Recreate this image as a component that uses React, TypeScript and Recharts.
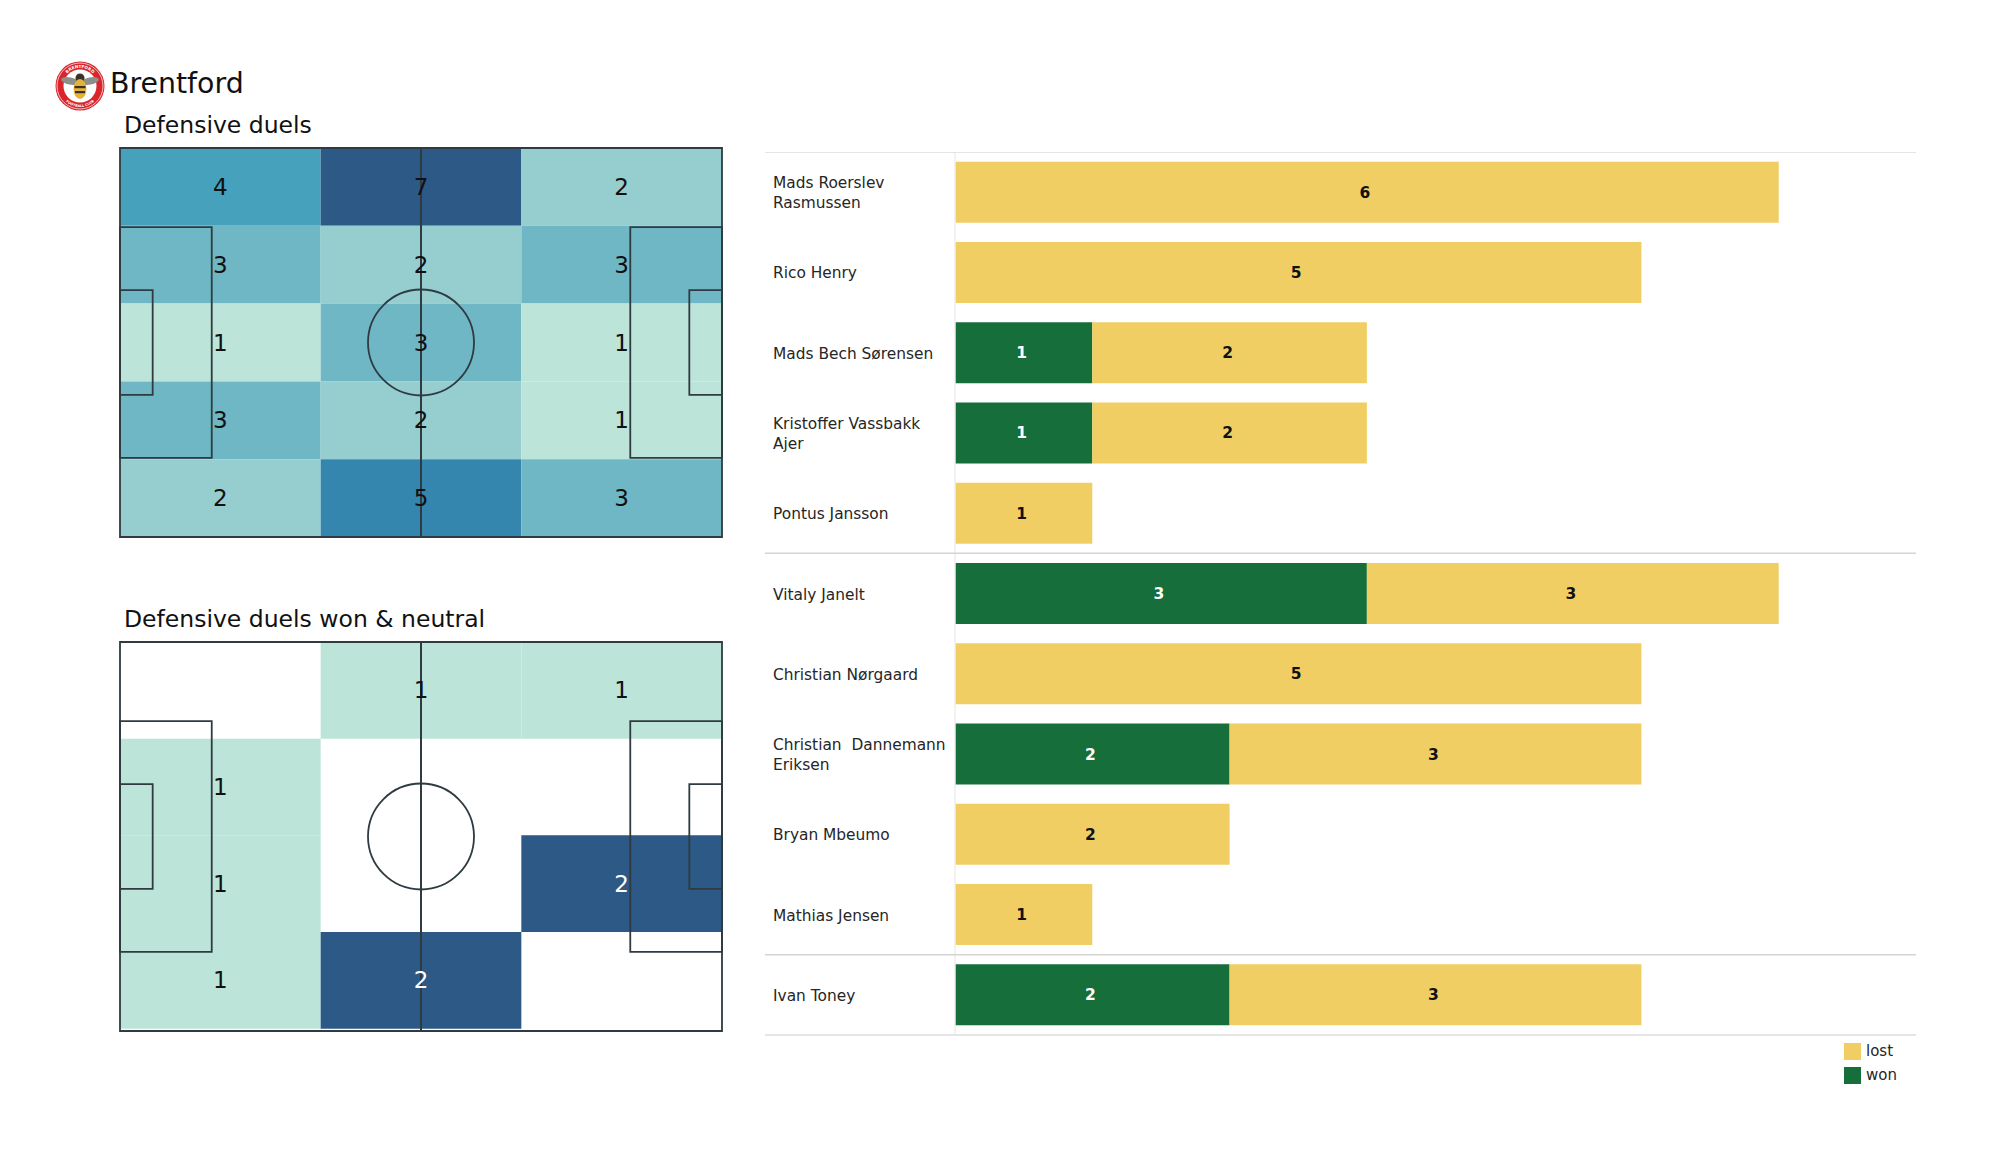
import React from "react";
import {
  Bar,
  BarChart,
  LabelList,
  Legend,
  ReferenceArea,
  ReferenceDot,
  ReferenceLine,
  Scatter,
  ScatterChart,
  XAxis,
  YAxis,
} from "recharts";

const FONT = "'DejaVu Sans', sans-serif";

// heatmap counts, top row first, 0 means nothing recorded
const duelCounts = [
  [4, 7, 2],
  [3, 2, 3],
  [1, 3, 1],
  [3, 2, 1],
  [2, 5, 3],
];
const wonCounts = [
  [0, 1, 1],
  [1, 0, 0],
  [1, 0, 2],
  [1, 2, 0],
];
const duelColors: Record<number, string> = {
  1: "#BCE4D9",
  2: "#96CED0",
  3: "#6FB7C4",
  4: "#46A1BC",
  5: "#3586AE",
  7: "#2C5985",
};
const wonColors: Record<number, string> = {
  1: "#BCE4D9",
  2: "#2C5985",
};

const players = [
  "Mads Roerslev\nRasmussen",
  "Rico Henry",
  "Mads Bech Sørensen",
  "Kristoffer Vassbakk\nAjer",
  "Pontus Jansson",
  "Vitaly Janelt",
  "Christian Nørgaard",
  "Christian  Dannemann\nEriksen",
  "Bryan Mbeumo",
  "Mathias Jensen",
  "Ivan Toney",
];
const won = [0, 0, 1, 1, 0, 3, 0, 2, 0, 0, 2];
const lost = [6, 5, 2, 2, 1, 3, 5, 3, 2, 1, 3];

const playerRows = players.map((name, i) => ({ name, won: won[i], lost: lost[i] }));

const LINE = "#2f3b40";
const PITCH_L = 105;
const PITCH_W = 68;

// pitch markings in metres: [x1, x2, y1, y2]
const pitchBoxes = [
  [0, 105, 0, 68],
  [0, 16, 13.84, 54.16],
  [89, 105, 13.84, 54.16],
  [0, 5.7, 24.84, 43.16],
  [99.3, 105, 24.84, 43.16],
];

const CountLabel = (props: any) => (
  <text
    x={props.cx}
    y={props.cy}
    dy={8}
    textAnchor="middle"
    fontFamily={FONT}
    fontSize={23}
    fill={props.payload.color}
  >
    {props.payload.value}
  </text>
);

const PitchHeatmap = ({
  counts,
  colors,
  whiteFrom,
  depth,
  left,
  top,
}: {
  counts: number[][];
  colors: Record<number, string>;
  whiteFrom: number;
  depth: number;
  left: number;
  top: number;
}) => {
  const rowH = depth / counts.length;
  const colW = PITCH_L / counts[0].length;
  const points = counts.flatMap((row, r) =>
    row.flatMap((value, c) =>
      value > 0
        ? [
            {
              x: (c + 0.5) * colW,
              y: (r + 0.5) * rowH,
              value,
              color: value >= whiteFrom ? "#ffffff" : "#111111",
            },
          ]
        : []
    )
  );
  return (
    <div style={{ position: "absolute", left, top }}>
      <ScatterChart width={606} height={393} margin={{ top: 2, right: 2, bottom: 2, left: 2 }}>
        <XAxis type="number" dataKey="x" domain={[0, PITCH_L]} hide />
        <YAxis type="number" dataKey="y" domain={[0, PITCH_W]} reversed hide />
        {counts.map((row, r) =>
          row.map((value, c) =>
            value > 0 ? (
              <ReferenceArea
                key={`${r}-${c}`}
                x1={c * colW}
                x2={(c + 1) * colW}
                y1={r * rowH}
                y2={(r + 1) * rowH}
                fill={colors[value]}
                fillOpacity={1}
                stroke="none"
              />
            ) : null
          )
        )}
        {pitchBoxes.map((b, i) => (
          <ReferenceArea
            key={i}
            x1={b[0]}
            x2={b[1]}
            y1={b[2]}
            y2={b[3]}
            fill="none"
            stroke={LINE}
            strokeWidth={1.8}
          />
        ))}
        <ReferenceLine x={PITCH_L / 2} stroke={LINE} strokeWidth={2} />
        <ReferenceDot
          x={PITCH_L / 2}
          y={PITCH_W / 2}
          r={53}
          fill="none"
          stroke={LINE}
          strokeWidth={1.8}
        />
        <Scatter data={points} shape={<CountLabel />} isAnimationActive={false} />
      </ScatterChart>
    </div>
  );
};

const PlayerTick = (props: any) => {
  const lines = String(props.payload.value).split("\n");
  const first = props.y + 6 - (lines.length - 1) * 9.75;
  return (
    <text x={9} fontFamily={FONT} fontSize={15.4} fill="#262626" style={{ whiteSpace: "pre" }}>
      {lines.map((line, i) => (
        <tspan key={i} x={9} y={first + i * 19.5}>
          {line}
        </tspan>
      ))}
    </text>
  );
};

const hideZero = (v: any) => (v ? v : "");

const Badge = () => (
  <svg width={52} height={52} style={{ position: "absolute", left: 54, top: 60 }} viewBox="0 0 52 52">
    <defs>
      <path id="ringTop" d="M 8 26 A 18 18 0 0 1 44 26" />
      <path id="ringBottom" d="M 5 26 A 21 21 0 0 0 47 26" />
    </defs>
    <circle cx={26} cy={26} r={24.5} fill="#D9252B" />
    <circle cx={26} cy={26} r={23} fill="none" stroke="#ffffff" strokeWidth={0.7} />
    <circle cx={26} cy={26} r={16.5} fill="#ffffff" />
    <text fontSize={4.2} fontWeight="bold" fill="#ffffff" fontFamily={FONT} textAnchor="middle">
      <textPath href="#ringTop" startOffset="50%">
        BRENTFORD
      </textPath>
    </text>
    <text fontSize={3.4} fontWeight="bold" fill="#ffffff" fontFamily={FONT} textAnchor="middle">
      <textPath href="#ringBottom" startOffset="50%">
        FOOTBALL CLUB
      </textPath>
    </text>
    <ellipse cx={16} cy={21} rx={9} ry={3.6} fill="#8d8f8c" transform="rotate(12 16 21)" />
    <ellipse cx={36} cy={21} rx={9} ry={3.6} fill="#8d8f8c" transform="rotate(-12 36 21)" />
    <ellipse cx={26} cy={18} rx={4.5} ry={4.5} fill="#3a3226" />
    <ellipse cx={26} cy={29} rx={6.5} ry={10} fill="#E2B23B" />
    <rect x={20.5} y={26} width={11} height={2.2} fill="#3a3226" />
    <rect x={21} y={31} width={10} height={2.2} fill="#3a3226" />
  </svg>
);

const App = () => (
  <div
    style={{
      position: "absolute",
      left: 0,
      top: 0,
      width: 2000,
      height: 1175,
      background: "#ffffff",
      fontFamily: FONT,
      overflow: "hidden",
    }}
  >
    <Badge />
    <div style={{ position: "absolute", left: 110, top: 67, fontSize: 28.4, lineHeight: "34px", color: "#111" }}>
      Brentford
    </div>
    <div style={{ position: "absolute", left: 124, top: 111, fontSize: 23.5, lineHeight: "28px", color: "#111" }}>
      Defensive duels
    </div>
    <div style={{ position: "absolute", left: 124, top: 605, fontSize: 23.5, lineHeight: "28px", color: "#111" }}>
      Defensive duels won &amp; neutral
    </div>

    <PitchHeatmap counts={duelCounts} colors={duelColors} whiteFrom={99} depth={68} left={118} top={146} />
    <PitchHeatmap counts={wonCounts} colors={wonColors} whiteFrom={2} depth={67.6} left={118} top={640} />

    <div style={{ position: "absolute", left: 764, top: 152 }}>
      <BarChart
        layout="vertical"
        width={1156}
        height={940}
        data={playerRows}
        barCategoryGap="12%"
        margin={{ top: 0, right: 4, bottom: 57, left: 0 }}
      >
        {/* negative start leaves room for the names inside the plot, so the separators span them */}
        <XAxis type="number" domain={[-1.384, 7]} hide />
        <YAxis
          type="category"
          dataKey="name"
          width={1}
          axisLine={false}
          tickLine={false}
          interval={0}
          tick={(p: any) => <PlayerTick {...p} />}
        />
        <ReferenceLine x={0} stroke="#eeeeee" strokeWidth={1.5} />
        <ReferenceLine y={players[0]} position="start" stroke="#dddddd" strokeWidth={1.5} />
        <ReferenceLine y={players[5]} position="start" stroke="#d4d4d4" strokeWidth={1.5} />
        <ReferenceLine y={players[10]} position="start" stroke="#d4d4d4" strokeWidth={1.5} />
        <ReferenceLine y={players[10]} position="end" stroke="#dddddd" strokeWidth={1.5} />
        <Legend
          layout="vertical"
          align="center"
          verticalAlign="middle"
          iconType="square"
          iconSize={17}
          wrapperStyle={{ left: 1080, top: 887, width: 80, fontSize: 15, fontFamily: FONT }}
          formatter={(value) => (
            <span style={{ color: "#262626", display: "inline-block", lineHeight: "24px", marginLeft: 1 }}>
              {value}
            </span>
          )}
        />
        <Bar dataKey="won" name="won" stackId="a" fill="#166E3A" isAnimationActive={false}>
          <LabelList
            dataKey="won"
            position="center"
            formatter={hideZero}
            fill="#ffffff"
            fontSize={15.5}
            fontWeight="bold"
            fontFamily={FONT}
            dx={-2}
          />
        </Bar>
        <Bar dataKey="lost" name="lost" stackId="a" fill="#F1CE63" isAnimationActive={false}>
          <LabelList
            dataKey="lost"
            position="center"
            formatter={hideZero}
            fill="#111111"
            fontSize={15.5}
            fontWeight="bold"
            fontFamily={FONT}
            dx={-2}
          />
        </Bar>
      </BarChart>
    </div>
  </div>
);

export default App;
